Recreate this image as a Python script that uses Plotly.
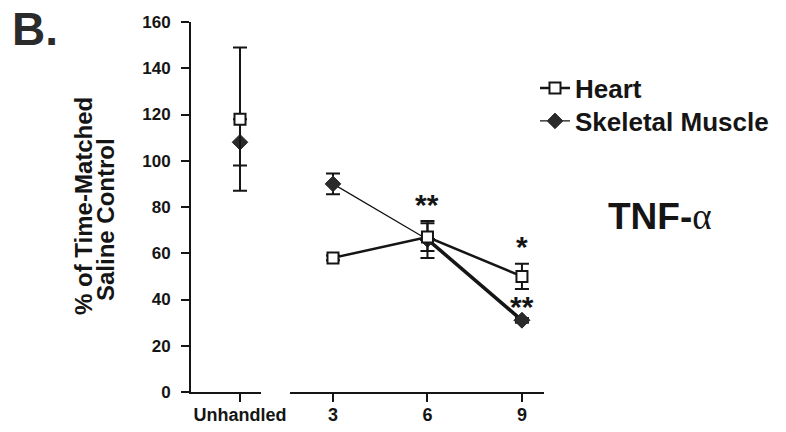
import plotly.graph_objects as go

# ---- data ----
x_unhandled = [0]
unhandled_label = ["Unhandled"]
x_days = [3, 6, 9]
day_labels = ["3", "6", "9"]

heart_unh = [118]
heart_unh_err = [31]
skel_unh = [108]
skel_unh_err = [10]

heart = [58, 67, 50]
heart_err = [1, 6, 5.5]
skel = [90, 66, 31]
skel_err = [4.5, 8, 1]

y_ticks = [0, 20, 40, 60, 80, 100, 120, 140, 160]

star_x = [6, 9, 9]
star_y = [82, 64, 38]
star_text = ["**", "*", "**"]

# ---- style ----
INK = "#151515"
FONT = "Arial, Liberation Sans, Helvetica, sans-serif"
L, R_EDGE, T, B = 191, 544, 22, 392   # plot area in window pixels
W = R_EDGE - L
H = B - T

def px_x(p):
    return (p - L) / W

def px_y(p):
    return (B - p) / H

fig = go.Figure()

sq = dict(symbol="square", size=11, color="white", line=dict(color=INK, width=2))
dm = dict(symbol="diamond", size=12, color="#2a2a2a", line=dict(color="#2a2a2a", width=1))
eb = dict(type="data", thickness=2, width=7, color=INK)

# Unhandled (subplot 1)
fig.add_trace(go.Scatter(x=x_unhandled, y=skel_unh, mode="markers", marker=dm,
                         error_y=dict(array=skel_unh_err, **eb), showlegend=False,
                         xaxis="x", yaxis="y"))
fig.add_trace(go.Scatter(x=x_unhandled, y=heart_unh, mode="markers", marker=sq,
                         error_y=dict(array=heart_unh_err, **eb), showlegend=False,
                         xaxis="x", yaxis="y"))

# Days (subplot 2)
fig.add_trace(go.Scatter(x=x_days, y=skel, mode="lines+markers", name="Skeletal Muscle",
                         line=dict(color=INK, width=1.2), marker=dm,
                         error_y=dict(array=skel_err, **eb), xaxis="x2", yaxis="y",
                         legend="legend2"))
fig.add_trace(go.Scatter(x=x_days[1:], y=skel[1:], mode="lines", showlegend=False,
                         line=dict(color=INK, width=3.5), xaxis="x2", yaxis="y"))
fig.add_trace(go.Scatter(x=x_days[1:], y=skel[1:], mode="markers", showlegend=False,
                         marker=dm, xaxis="x2", yaxis="y"))
fig.add_trace(go.Scatter(x=x_days, y=heart, mode="lines+markers", name="Heart",
                         line=dict(color=INK, width=2.5), marker=sq,
                         error_y=dict(array=heart_err, **eb), xaxis="x2", yaxis="y",
                         legend="legend"))

annotations = []
for sx, sy, st in zip(star_x, star_y, star_text):
    annotations.append(dict(x=sx, y=sy, xref="x2", yref="y", text=st, showarrow=False,
                            xanchor="center", yanchor="middle",
                            font=dict(family=FONT, size=30, color=INK, weight="bold"),
                            yshift=-2))

annotations += [
    dict(x=px_x(10), y=px_y(1), xref="paper", yref="paper", xanchor="left", yanchor="top",
         text="B.", showarrow=False, font=dict(family=FONT, size=46, color="#2b2b2b", weight="bold")),
    dict(x=px_x(83), y=px_y(206), xref="paper", yref="paper", text="% of Time-Matched",
         xanchor="center", yanchor="middle",
         textangle=-90, showarrow=False, font=dict(family=FONT, size=24, color=INK, weight="bold")),
    dict(x=px_x(105), y=px_y(220), xref="paper", yref="paper", text="Saline Control",
         xanchor="center", yanchor="middle",
         textangle=-90, showarrow=False, font=dict(family=FONT, size=24, color=INK, weight="bold")),
    dict(x=px_x(660), y=px_y(217), xref="paper", yref="paper",
         xanchor="center", yanchor="middle",
         text="TNF-<span style='font-family:Liberation Serif, Times New Roman, serif;font-weight:normal'>α</span>",
         showarrow=False, font=dict(family=FONT, size=37, color=INK, weight="bold")),
]

axis_common = dict(showline=True, linewidth=2, linecolor=INK, ticks="outside", ticklen=8,
                   tickwidth=2, tickcolor=INK, showgrid=False, zeroline=False,
                   tickfont=dict(family=FONT, size=18, color=INK, weight="bold"))

legend_common = dict(xanchor="left", yanchor="middle", bgcolor="rgba(0,0,0,0)",
                     font=dict(family=FONT, size=26, color=INK, weight="bold"),
                     itemwidth=30, tracegroupgap=0)

fig.update_layout(
    width=786, height=432,
    margin=dict(l=L, r=786 - R_EDGE, t=T, b=432 - B, pad=0, autoexpand=False),
    paper_bgcolor="white", plot_bgcolor="white",
    xaxis=dict(domain=[0, 70 / W], range=[-2.333, 1], tickvals=x_unhandled,
               ticktext=unhandled_label, anchor="y", ticklabelstandoff=-3, **axis_common),
    xaxis2=dict(domain=[99 / W, 1], range=[1.635, 9.70], tickvals=x_days,
                ticktext=day_labels, anchor="y", ticklabelstandoff=-3, **axis_common),
    yaxis=dict(range=[0, 160], tickvals=y_ticks, anchor="x", ticklabelstandoff=7,
               **{**axis_common, "tickfont": dict(family=FONT, size=17, color=INK, weight="bold")}),
    legend=dict(x=px_x(535), y=px_y(88), **legend_common),
    legend2=dict(x=px_x(535), y=px_y(121), **legend_common),
    annotations=annotations,
    showlegend=True,
)

fig.write_html("out.html", config={"displayModeBar": False},
               post_script="document.body.style.margin='0';")
